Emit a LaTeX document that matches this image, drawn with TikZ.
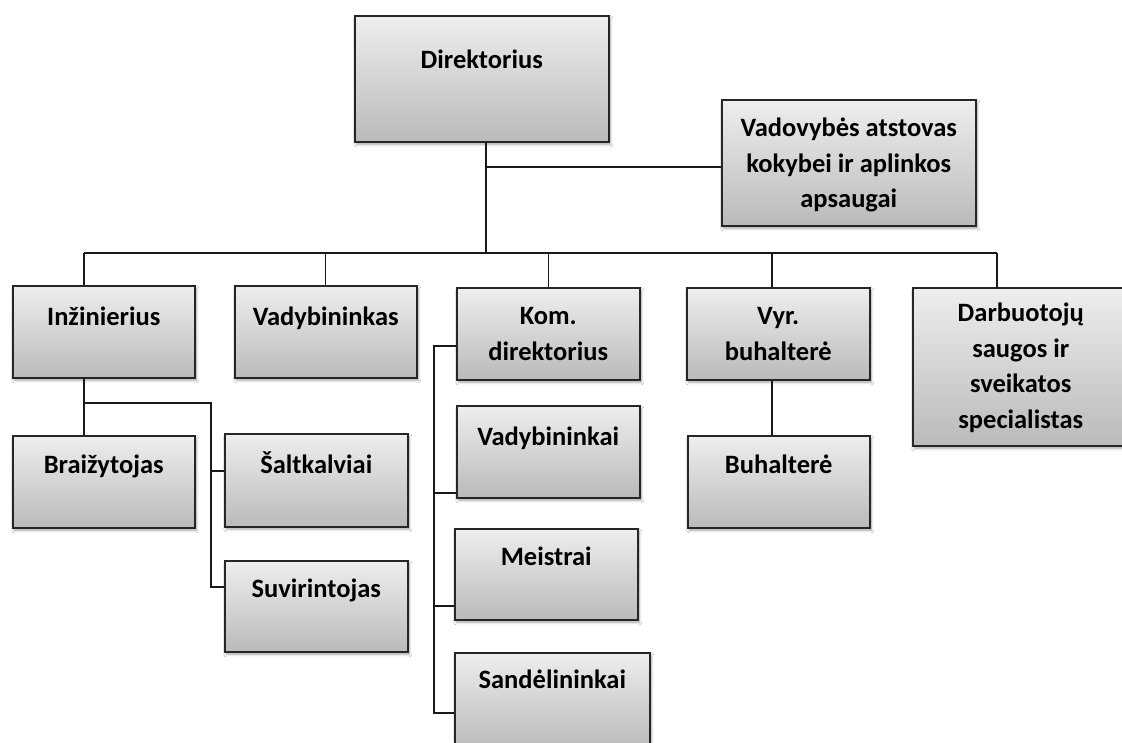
\documentclass[tikz,border=0pt]{standalone}
\usepackage{fontspec}
\setmainfont{Carlito}
\usetikzlibrary{shadows.blur}
\definecolor{boxtop}{RGB}{238,238,238}
\definecolor{boxbot}{RGB}{186,186,186}
\newcommand{\orgtext}[4]{\begin{minipage}[c][#2pt][t]{#1pt}\centering\fontsize{26.5}{35.5}\selectfont\bfseries\rule{0pt}{#3pt}#4\end{minipage}}
\tikzset{
  orgbox/.style={draw=black!85, line width=1.5pt, inner sep=0pt, anchor=north west,
    top color=boxtop, bottom color=boxbot,
    blur shadow={shadow xshift=1.5pt, shadow yshift=-2.5pt, shadow blur steps=6, shadow blur radius=2.5pt, shadow opacity=35}},
  conn/.style={draw=black!90, line width=1.4pt}
}
\begin{document}
\begin{tikzpicture}[x=1pt, y=-1pt]
\useasboundingbox (0,0) rectangle (1122,742);
\fill[white] (0,0) rectangle (1122,742);
% boxes
\node[orgbox] (dir)  at (354,15)  {\orgtext{254}{126}{53}{Direktorius}};
\node[orgbox] (vad)  at (721,99)  {\orgtext{254}{126}{37}{Vadovybės atstovas\\kokybei ir aplinkos\\apsaugai}};
\node[orgbox] (inz)  at (12,285)  {\orgtext{182}{92}{40}{Inžinierius}};
\node[orgbox] (vdb)  at (234,285) {\orgtext{182}{92}{40}{Vadybininkas}};
\node[orgbox] (kom)  at (456,287) {\orgtext{183}{92}{37}{Kom.\\direktorius}};
\node[orgbox] (vyr)  at (686,287) {\orgtext{183}{92}{37}{Vyr.\\buhalterė}};
\node[orgbox] (darb) at (912,287) {\orgtext{216}{158}{34}{Darbuotojų\\saugos ir\\sveikatos\\specialistas}};
\node[orgbox] (brz)  at (12,435)  {\orgtext{182}{92}{38}{Braižytojas}};
\node[orgbox] (salt) at (224,433) {\orgtext{183}{93}{40}{Šaltkalviai}};
\node[orgbox] (suv)  at (224,560) {\orgtext{183}{91}{37}{Suvirintojas}};
\node[orgbox] (vdk)  at (456,405) {\orgtext{183}{92}{40}{Vadybininkai}};
\node[orgbox] (mst)  at (454,528) {\orgtext{183}{91}{37}{Meistrai}};
\node[orgbox] (snd)  at (454,652) {\orgtext{195}{96}{36}{Sandėlininkai}};
\node[orgbox] (buh)  at (687,435) {\orgtext{182}{92}{38}{Buhalterė}};
% junction coordinates
\coordinate (bT) at (486,253);
\coordinate (j1) at (486,167);
\coordinate (bL) at (84,253);
\coordinate (bR) at (997,253);
\coordinate (vx) at (772,253);
\coordinate (iB) at (84,403);
\coordinate (iR) at (211,403);
\coordinate (iK) at (211,471);
\coordinate (iS) at (211,587);
\coordinate (k0) at (434,346);
\coordinate (k1) at (434,493);
\coordinate (k2) at (434,606);
\coordinate (k3) at (434,713);
% connectors
\draw[conn] (dir.south -| bT) -- (bT);
\draw[conn] (j1) -- (j1 -| vad.west);
\draw[conn] (bL) -- (bR);
\draw[conn] (bL) -- (bL |- inz.north);
\draw[conn] (vdb.north |- bL) -- (vdb.north);
\draw[conn] (kom.north |- bL) -- (kom.north);
\draw[conn] (vx) -- (vx |- vyr.north);
\draw[conn] (bR) -- (bR |- darb.north);
\draw[conn] (iB |- inz.south) -- (iB |- brz.north);
\draw[conn] (iB) -- (iR) -- (iS) -- (iS -| suv.west);
\draw[conn] (iK) -- (iK -| salt.west);
\draw[conn] (k0 -| kom.west) -- (k0) -- (k3) -- (k3 -| snd.west);
\draw[conn] (k1) -- (k1 -| vdk.west);
\draw[conn] (k2) -- (k2 -| mst.west);
\draw[conn] (vx |- vyr.south) -- (vx |- buh.north);
\end{tikzpicture}
\end{document}
